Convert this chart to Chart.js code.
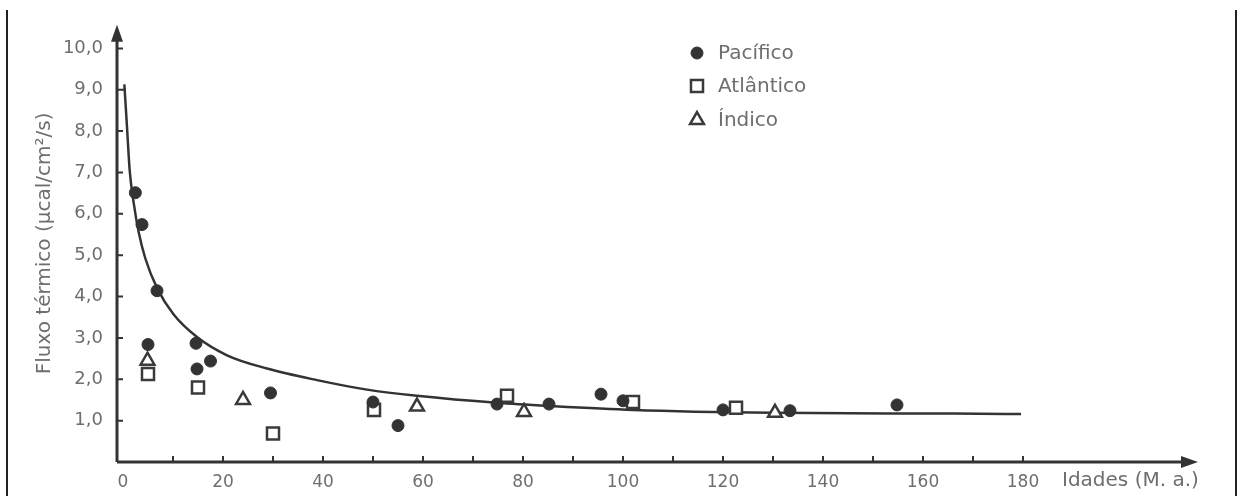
<!DOCTYPE html>
<html>
<head>
<meta charset="utf-8">
<script src="https://cdn.jsdelivr.net/npm/chart.js@4"></script>
<style>
  html, body { margin: 0; padding: 0; background: #fff; }
  #wrap { width: 1241px; height: 496px; position: relative; }
</style>
</head>
<body>
<div id="wrap"><canvas id="chart"></canvas></div>
<script>
// Pacífico (filled circles)
const pacificoX = [2.47, 3.8, 6.8, 5.0, 14.6, 14.8, 17.5, 29.5, 50, 55, 74.8, 85.2, 95.6, 100, 120, 133.4, 154.8];
const pacificoY = [6.51, 5.74, 4.14, 2.84, 2.87, 2.25, 2.44, 1.67, 1.45, 0.88, 1.40, 1.40, 1.64, 1.48, 1.26, 1.24, 1.38];

// Atlântico (open squares)
const atlanticoX = [5, 15, 30, 50.2, 76.8, 102, 122.6];
const atlanticoY = [2.13, 1.8, 0.69, 1.26, 1.6, 1.45, 1.31];

// Índico (open triangles)
const indicoX = [4.9, 24, 58.8, 80.2, 130.4];
const indicoY = [2.45, 1.5, 1.34, 1.21, 1.19];

// fitted curve
const curveX = [0.27, 0.8, 1.33, 2.13, 3.13, 4.47, 6.8, 10.1, 14.8, 20.8, 28.8, 38.8, 48.8, 58.8, 74.8, 86, 102, 130, 166, 179.6];
const curveY = [9.13, 8.1, 7.06, 6.27, 5.56, 4.92, 4.21, 3.57, 3.02, 2.58, 2.26, 1.98, 1.75, 1.60, 1.43, 1.35, 1.26, 1.19, 1.17, 1.16];

const xTicks = [10, 20, 30, 40, 50, 60, 70, 80, 90, 100, 110, 120, 130, 140, 150, 160, 170, 180];
const xLabels = [0, 20, 40, 60, 80, 100, 120, 140, 160, 180];
const yTicks = [1, 2, 3, 4, 5, 6, 7, 8, 9, 10];
const seriesLabels = ['Pacífico', 'Atlântico', 'Índico'];
const xTitle = 'Idades (M. a.)';
const yTitle = 'Fluxo térmico (μcal/cm²/s)';

const ink = '#333333';
const textColor = '#6e6e6e';
const font = 'DejaVu Sans';

const pts = (xs, ys) => xs.map((x, i) => ({ x, y: ys[i] }));

const decorations = {
  id: 'decorations',
  afterDraw(chart) {
    const { ctx, scales: { x, y } } = chart;
    const x0 = x.left;
    const y0 = y.getPixelForValue(0);
    ctx.save();

    // page frame
    ctx.strokeStyle = '#222';
    ctx.lineWidth = 2;
    ctx.beginPath();
    ctx.moveTo(7, 10); ctx.lineTo(7, 496);
    ctx.moveTo(1236, 10); ctx.lineTo(1236, 496);
    ctx.stroke();

    // axes
    ctx.strokeStyle = ink;
    ctx.fillStyle = ink;
    ctx.lineWidth = 3;
    ctx.beginPath();
    ctx.moveTo(x0, y0); ctx.lineTo(x0, y.top + 12);
    ctx.moveTo(x0, y0); ctx.lineTo(x.right - 12, y0);
    ctx.stroke();

    // arrow heads
    ctx.beginPath();
    ctx.moveTo(x0, y.top);
    ctx.lineTo(x0 - 6, y.top + 17);
    ctx.lineTo(x0 + 6, y.top + 17);
    ctx.closePath();
    ctx.fill();
    ctx.beginPath();
    ctx.moveTo(x.right, y0);
    ctx.lineTo(x.right - 17, y0 - 6);
    ctx.lineTo(x.right - 17, y0 + 6);
    ctx.closePath();
    ctx.fill();

    // inward ticks
    ctx.lineWidth = 2;
    ctx.beginPath();
    xTicks.forEach(v => {
      const px = x.getPixelForValue(v);
      ctx.moveTo(px, y0); ctx.lineTo(px, y0 - 6);
    });
    yTicks.forEach(v => {
      const py = y.getPixelForValue(v);
      ctx.moveTo(x0, py); ctx.lineTo(x0 + (v === 9 ? 9 : 6), py);
    });
    ctx.stroke();

    // x axis title
    ctx.fillStyle = textColor;
    ctx.font = '20px "' + font + '"';
    ctx.textBaseline = 'middle';
    ctx.textAlign = 'left';
    ctx.fillText(xTitle, 1062, 481);

    // legend
    const lx = 697;
    const rows = [53, 86, 120];
    chart.data.datasets.slice(0, 3).forEach((ds, i) => {
      const ly = rows[i];
      ctx.fillStyle = ds.backgroundColor;
      ctx.strokeStyle = ds.borderColor;
      ctx.lineWidth = ds.borderWidth;
      Chart.helpers.drawPoint(ctx, {
        pointStyle: ds.pointStyle,
        radius: ds.pointRadius,
        borderWidth: ds.borderWidth,
        rotation: 0
      }, lx, ly);
      ctx.fillStyle = textColor;
      ctx.fillText(ds.label, 718, ly + 1);
    });

    ctx.restore();
  }
};

new Chart(document.getElementById('chart'), {
  type: 'scatter',
  data: {
    datasets: [
      {
        label: seriesLabels[0],
        data: pts(pacificoX, pacificoY),
        pointStyle: 'circle',
        pointRadius: 6,
        backgroundColor: ink,
        borderColor: ink,
        borderWidth: 1,
      },
      {
        label: seriesLabels[1],
        data: pts(atlanticoX, atlanticoY),
        pointStyle: 'rect',
        pointRadius: 8.5,
        backgroundColor: '#ffffff',
        borderColor: '#3a3a3a',
        borderWidth: 2.5,
      },
      {
        label: seriesLabels[2],
        data: pts(indicoX, indicoY),
        pointStyle: 'triangle',
        pointRadius: 8,
        backgroundColor: '#ffffff',
        borderColor: '#3a3a3a',
        borderWidth: 2.5,
      },
      {
        type: 'line',
        label: 'curva',
        data: pts(curveX, curveY),
        borderColor: ink,
        borderWidth: 2.5,
        pointRadius: 0,
        fill: false,
        cubicInterpolationMode: 'monotone',
        order: 5,
      },
    ],
  },
  options: {
    responsive: true,
    maintainAspectRatio: false,
    animation: false,
    layout: { padding: { left: 0, top: 17, right: 43, bottom: 0 } },
    plugins: {
      legend: { display: false },
      tooltip: { enabled: false },
    },
    scales: {
      x: {
        type: 'linear',
        min: -1.2,
        max: 215,
        afterFit: s => { s.height = 34; },
        afterBuildTicks: s => { s.ticks = xLabels.map(v => ({ value: v })); },
        grid: { display: false, drawTicks: false },
        border: { display: false },
        ticks: {
          color: textColor,
          font: { family: font, size: 17 },
          padding: 10,
          maxRotation: 0,
          autoSkip: false,
        },
      },
      y: {
        type: 'linear',
        min: 0,
        max: 10.57,
        afterFit: s => { s.width = 117; },
        afterBuildTicks: s => { s.ticks = yTicks.map(v => ({ value: v })); },
        grid: { display: false, drawTicks: false },
        border: { display: false },
        title: {
          display: true,
          text: yTitle,
          color: textColor,
          font: { family: font, size: 20 },
          padding: { top: 33, bottom: 0 },
        },
        ticks: {
          color: textColor,
          font: { family: font, size: 18 },
          padding: 14,
          callback: v => v.toFixed(1).replace('.', ','),
        },
      },
    },
  },
  plugins: [decorations],
});
</script>
</body>
</html>
